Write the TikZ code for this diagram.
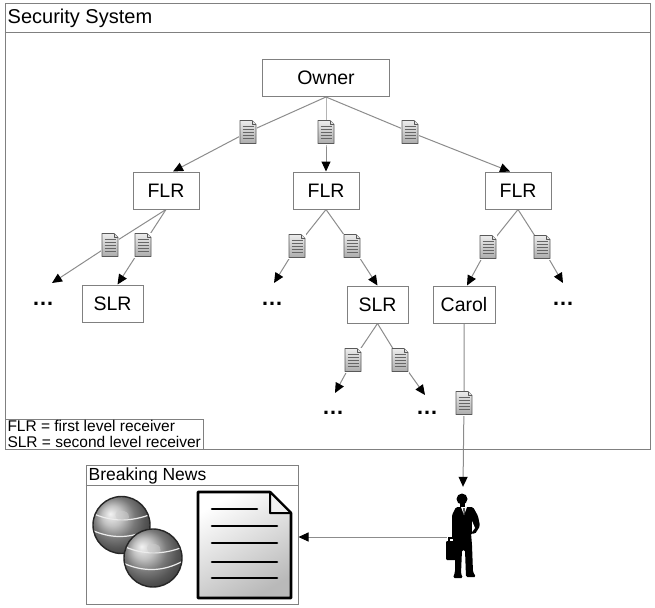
\documentclass[tikz,border=0pt]{standalone}
\usepackage{fontspec}
\setmainfont{Liberation Sans}
\usetikzlibrary{arrows.meta,calc}
\pgfdeclarelayer{background}
\pgfsetlayers{background,main}
\definecolor{framegray}{HTML}{808080}
\definecolor{wiregray}{HTML}{8C8C8C}
\begin{document}
\begin{tikzpicture}[x=1pt,y=-1pt,
  outline/.style={draw=framegray, line width=1pt, inner sep=0pt},
  frame/.style={outline, fill=white},
  actor/.style={frame, minimum height=37pt, font=\fontsize{19.5}{22}\selectfont},
  wire/.style={draw=wiregray, line width=1pt},
  flow/.style={wire, -{Triangle[length=10pt,width=9pt,color=black]}},
  more/.style={font=\fontsize{22}{24}\selectfont\bfseries, inner sep=0pt},
  docnode/.style={minimum width=18pt, minimum height=25pt, inner sep=0pt, fill=white,
    path picture={
      \begin{scope}[shift={(path picture bounding box.center)}]
        \shade[top color=gray!15, bottom color=gray!65, draw=black!65, line width=0.8pt, line join=round]
          (-8,-11.5) -- (4,-11.5) -- (8,-7.5) -- (8,11.5) -- (-8,11.5) -- cycle;
        \draw[black!65, line width=0.6pt, fill=gray!25, line join=round]
          (4,-11.5) -- (4,-7.5) -- (8,-7.5);
        \foreach \ly in {-5.5,-2.5,0.5,3.5,6.5}
          \draw[black!60, line width=0.9pt] (-5.5,\ly) -- (5.5,\ly);
      \end{scope}}},
]
\useasboundingbox (0,0) rectangle (655,607);

% ---------- security system frame ----------
\node[outline, minimum width=645pt, minimum height=445pt] (sec) at (327.5,226.5) {};
\draw[framegray, line width=1pt] ($(sec.north west)+(0,29)$) -- ($(sec.north east)+(0,29)$);
\node[anchor=west, inner sep=0pt, font=\fontsize{20}{22}\selectfont] (secTitle)
  at ($(sec.north west)+(3,15)$) {Security System};

% ---------- receivers ----------
\node[actor, minimum width=127pt] (owner) at (326,78) {Owner};
\node[actor, minimum width=66pt] (flrA) at (166,190.5) {FLR};
\node[actor, minimum width=66pt] (flrB) at (326,190.5) {FLR};
\node[actor, minimum width=66pt] (flrC) at (518,190.5) {FLR};
\node[actor, minimum width=61pt] (slrA) at (112.5,303.5) {SLR};
\node[actor, minimum width=61pt] (slrB) at (377.5,304.5) {SLR};
\node[actor, minimum width=62pt] (carol) at (464,304.5) {Carol};

% ---------- further receivers ----------
\node[more] (eA) at (43,304) {…};
\node[more] (eB) at (272,304) {…};
\node[more] (eS1) at (333,413) {…};
\node[more] (eS2) at (427,413) {…};
\node[more] (eC) at (563,304) {…};
\coordinate (tA) at (52,283);
\coordinate (tB) at (274,283);
\coordinate (tS1) at (335,393);
\coordinate (tS2) at (425,395);
\coordinate (tC) at (563,283);

% ---------- forwarded documents ----------
\node[docnode] (dOA) at (248,132) {};
\node[docnode] (dOB) at (326,132) {};
\node[docnode] (dOC) at (410,132) {};
\node[docnode] (dA1) at (110,245) {};
\node[docnode] (dA2) at (143,245) {};
\node[docnode] (dB1) at (297,246) {};
\node[docnode] (dB2) at (352,246) {};
\node[docnode] (dC1) at (488,247) {};
\node[docnode] (dC2) at (542,247) {};
\node[docnode] (dS1) at (353,360) {};
\node[docnode] (dS2) at (400,360) {};
\node[docnode] (dCar) at (464,403) {};

% ---------- legend ----------
\node[frame, anchor=south west, align=left, inner xsep=2.5pt, inner ysep=1pt,
  font=\fontsize{15.5}{16.5}\selectfont] (legend) at (sec.south west)
  {FLR = first level receiver\\SLR = second level receiver};

% ---------- leaker and news site ----------
\node[minimum width=36pt, minimum height=92pt, inner sep=0pt] (man) at (463,533) {};
\coordinate (hand) at ($(man.west)+(2,4)$);
\begin{scope}[shift={(man.center)}]
  \fill[black] (-1,-34) circle (5.5pt);
  \fill[black] (-3,-30) rectangle (2,-24);
  \fill[black, rounded corners=1.5pt] (-7,-26) -- (10,-26) -- (15,-17) -- (17,-7) -- (12,1)
    -- (8,0) -- (9,12) -- (10,39) -- (13,44) -- (3,44) -- (2,17) -- (-1,17) -- (-2,41)
    -- (0,45) -- (-10,45) -- (-8,39) -- (-8,15) -- (-9,7) -- (-11,5) -- (-11,-18) -- cycle;
  \fill[white] (9,-12) -- (12,-5) -- (9,-1) -- cycle;
  \fill[white] (-2,-26) -- (1,-18) -- (4,-26) -- cycle;
  \fill[black] (0.4,-25) -- (1.6,-25) -- (1.5,-19) -- (0.6,-19) -- cycle;
  \fill[black, rounded corners=1pt] (-17,8) rectangle (-6,27);
  \draw[black, line width=1.5pt] (-14,8) -- (-14,5) -- (-9,5) -- (-9,8);
\end{scope}

\node[outline, minimum width=212pt, minimum height=139pt] (news) at (192,534.5) {};
\draw[framegray, line width=1pt] ($(news.north west)+(0,21)$) -- ($(news.north east)+(0,21)$);
\node[anchor=west, inner sep=0pt, font=\fontsize{17.5}{20}\selectfont] (newsTitle)
  at ($(news.north west)+(3,11)$) {Breaking News};

% globes
\foreach \cx/\cy/\r in {121.5/525/28.5, 153/558/29} {
  \shade[ball color=gray!65] (\cx,\cy) circle (\r pt);
  \begin{scope}
    \clip (\cx,\cy) circle (\r pt);
    \draw[gray!15, line width=1.2pt] (\cx-30,\cy-12) .. controls (\cx-10,\cy-3) and (\cx+10,\cy-3) .. (\cx+30,\cy-11);
    \draw[gray!15, line width=1.2pt] (\cx-30,\cy+5) .. controls (\cx-10,\cy+14) and (\cx+10,\cy+14) .. (\cx+30,\cy+3);
    \fill[gray!40, opacity=0.5] (\cx-4,\cy-14) .. controls (\cx+6,\cy-16) and (\cx+12,\cy-8) .. (\cx+4,\cy-4)
      .. controls (\cx-2,\cy-2) and (\cx-10,\cy-8) .. cycle;
  \end{scope}
  \draw[black!85, line width=1.4pt] (\cx,\cy) circle (\r pt);
}

% news article
\shade[top color=white, bottom color=gray!55, shading angle=30]
  (198,492) -- (270,492) -- (291,513) -- (291,598) -- (198,598) -- cycle;
\draw[black, line width=2.6pt, line join=round]
  (198,492) -- (270,492) -- (291,513) -- (291,598) -- (198,598) -- cycle;
\draw[black, line width=2pt, line join=round, fill=gray!12] (270,492) -- (270,513) -- (291,513) -- cycle;
\draw[black, line width=2.6pt, line cap=round] (212,509) -- (257,509);
\foreach \ly in {526,543,562,578}
  \draw[black, line width=2.6pt, line cap=round] (212,\ly) -- (277,\ly);

% ---------- connectors ----------
\begin{pgfonlayer}{background}
  \draw[flow] (owner.south) -- (dOA.center) -- ($(flrA.north)+(7,0)$);
  \draw[flow] (owner.south) -- (dOB.center) -- (flrB.north);
  \draw[flow] (owner.south) -- (dOC.center) -- ($(flrC.north)+(-8,0)$);
  \draw[flow] (flrA.south) -- (dA1.center) -- (tA);
  \draw[flow] (flrA.south) -- (dA2.center) -- ($(slrA.north)+(5,0)$);
  \draw[flow] (flrB.south) -- (dB1.center) -- (tB);
  \draw[flow] (flrB.south) -- (dB2.center) -- (slrB.north);
  \draw[flow] (slrB.south) -- (dS1.center) -- (tS1);
  \draw[flow] (slrB.south) -- (dS2.center) -- (tS2);
  \draw[flow] (flrC.south) -- (dC1.center) -- ($(carol.north)+(3,0)$);
  \draw[flow] (flrC.south) -- (dC2.center) -- (tC);
  \draw[flow] (carol.south) -- (dCar.center) -- (man.north);
  \draw[flow] (hand) -- (hand -| news.east);
\end{pgfonlayer}
\end{tikzpicture}
\end{document}
